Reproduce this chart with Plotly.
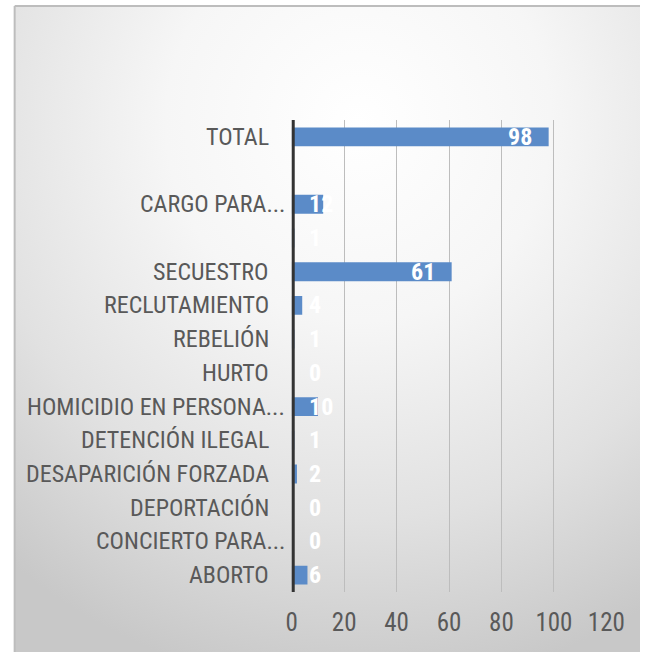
import base64
import plotly.graph_objects as go

# ---- data (bottom to top) ----
categories = ["ABORTO", "CONCIERTO PARA...", "DEPORTACIÓN", "DESAPARICIÓN FORZADA",
              "DETENCIÓN ILEGAL", "HOMICIDIO EN PERSONA...", "HURTO", "REBELIÓN",
              "RECLUTAMIENTO", "SECUESTRO", "", "CARGO PARA...", "", "TOTAL"]
values = [6, 0, 0, 2, 1, 10, 0, 1, 4, 61, 1, 12, None, 98]
x_ticks = [0, 20, 40, 60, 80, 100, 120]

W, H = 659, 652
FONT = "Liberation Sans Narrow, Arial Narrow, Roboto Condensed, sans-serif"
TXT = "#595959"


def fx(X):
    return X / W


def fy(Y):
    return 1 - Y / H


positions = list(range(len(categories)))

# background radial gradient as an SVG image
x_left = fx(9)
y_top = fy(6)
gw, gh = 650, 646
svg = (f"<svg xmlns='http://www.w3.org/2000/svg' width='{gw}' height='{gh}' viewBox='0 0 {gw} {gh}' "
       "preserveAspectRatio='none'><defs><radialGradient id='g' cx='0.55' cy='0.18' r='0.88'>"
       "<stop offset='0' stop-color='#ffffff'/><stop offset='0.35' stop-color='#f6f6f6'/>"
       "<stop offset='0.7' stop-color='#e1e1e1'/><stop offset='1' stop-color='#c8c8c8'/>"
       f"</radialGradient></defs><rect width='{gw}' height='{gh}' fill='url(#g)'/></svg>")
bg_src = "data:image/svg+xml;base64," + base64.b64encode(svg.encode()).decode()

fig = go.Figure()

fig.add_trace(go.Bar(
    x=values, y=positions, orientation="h",
    marker=dict(color="#5b8bc8", line=dict(width=0)),
    hoverinfo="skip", showlegend=False))

annotations = []
# value labels
for p, v in zip(positions, values):
    if v is None:
        continue
    inside = v >= 20
    annotations.append(dict(
        x=v if inside else 0, y=p, xref="x", yref="y",
        text=str(v), showarrow=False,
        xanchor="right" if inside else "left",
        xshift=-15 if inside else 15,
        font=dict(family=FONT, size=24, color="white", weight="bold")))
# category labels
for p, c in zip(positions, categories):
    if not c:
        continue
    annotations.append(dict(
        x=0, y=p, xref="x", yref="y", text=c, showarrow=False,
        xanchor="right", xshift=-5 if c.endswith("...") else -21,
        font=dict(family=FONT, size=24, color=TXT)))

fig.update_layout(
    width=W, height=H, autosize=False,
    margin=dict(l=0, r=0, t=0, b=0),
    paper_bgcolor="white", plot_bgcolor="rgba(0,0,0,0)",
    xaxis=dict(domain=[fx(297), fx(624)], range=[0, 120],
               tickvals=x_ticks, showgrid=True, gridcolor="#bdbdbd", gridwidth=1,
               zeroline=False, showline=False, ticks="outside", ticklen=8,
               tickcolor="rgba(0,0,0,0)",
               tickfont=dict(family=FONT, size=25, color=TXT)),
    yaxis=dict(domain=[fy(592), fy(120)], range=[-0.5, len(categories) - 0.5],
               tickvals=positions, showticklabels=False, showgrid=False, zeroline=False,
               showline=False),
    bargap=0.44,
    annotations=annotations,
    images=[dict(source=bg_src, xref="paper", yref="paper", x=x_left, y=y_top,
                 sizex=1 - x_left, sizey=y_top, xanchor="left", yanchor="top",
                 sizing="stretch", layer="below")],
    shapes=[
        dict(type="line", xref="paper", yref="paper", x0=x_left, x1=x_left, y0=0, y1=y_top,
             line=dict(color="#bdbdbd", width=2), layer="above"),
        dict(type="line", xref="paper", yref="paper", x0=x_left, x1=1, y0=y_top, y1=y_top,
             line=dict(color="#bdbdbd", width=2), layer="above"),
        dict(type="line", xref="x", yref="y domain", xsizemode="pixel", xanchor=0,
             x0=1, x1=1, y0=0, y1=1, line=dict(color="#333333", width=4), layer="above"),
    ],
)

fig.write_html(
    "out.html",
    config={"displayModeBar": False, "staticPlot": True},
    post_script=("document.body.style.margin='0';document.body.style.overflow='hidden';"
                 "document.documentElement.style.overflow='hidden';"))
